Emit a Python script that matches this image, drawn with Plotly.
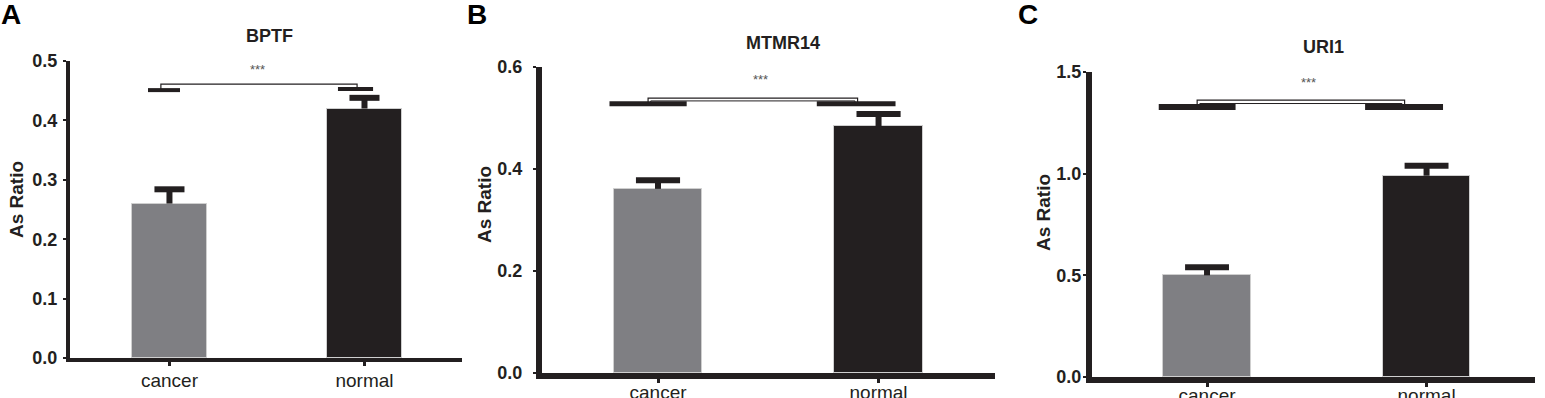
import plotly.graph_objects as go

# ---------------- data ----------------
categories = ["cancer", "normal"]
genes = ["BPTF", "MTMR14", "URI1"]
panel_letters = ["A", "B", "C"]

bptf_mean = [0.26, 0.42]
bptf_sem = [0.024, 0.018]
mtmr14_mean = [0.361, 0.484]
mtmr14_sem = [0.017, 0.024]
uri1_mean = [0.50, 0.99]
uri1_sem = [0.04, 0.049]

y_max = [0.5, 0.6, 1.5]
y_dtick = [0.1, 0.2, 0.5]

# significance bracket levels (data units): left bar, right bar, bracket top
bptf_bracket = [0.451, 0.453, 0.461]
mtmr14_bracket = [0.528, 0.528, 0.539]
uri1_bracket = [1.328, 1.328, 1.362]
sig_label = "***"
sig_y = [0.485, 0.576, 1.45]

means = [bptf_mean, mtmr14_mean, uri1_mean]
sems = [bptf_sem, mtmr14_sem, uri1_sem]
brackets = [bptf_bracket, mtmr14_bracket, uri1_bracket]

# ---------------- styling / layout constants ----------------
W, H = 1545, 398
INK = "#231f20"
BAR_COLORS = ["#7f7f83", "#231f20"]
FONT = "Liberation Sans, Arial, Helvetica, sans-serif"

px_x = [(70, 462), (542, 995), (1092, 1535)]
px_y = [(358, 61), (373, 67), (377, 72)]          # (y of 0, y of max)
x_ranges = [[-0.51, 1.5], [-0.526, 1.528], [-0.524, 1.494]]
bar_widths = [0.385, 0.40, 0.40]
cap_half = [0.077, 0.10, 0.10]
err_lw = [6, 6, 6]
axis_lw = [4, 6, 6]
ytick_standoff = [2, 7, -2]
xtick_standoff = [-2, -7, -8]
thick_lw = [4, 5, 6]
# horizontal offsets (category units) of bracket pieces
left_bar_off = [(-0.11, 0.054), (-0.22, 0.13), (-0.22, 0.13)]
right_bar_off = [(-0.136, 0.044), (-0.28, 0.077), (-0.28, 0.075)]
leg_off = [(-0.044, -0.038), (-0.045, -0.095), (-0.045, -0.10)]
star_x = [0.449, 0.463, 0.46]
double_bracket = [False, True, True]

title_pos = [(269, 36), (783, 43), (1323, 47)]
letter_pos = [(11, 15), (477, 15), (1028, 15)]
ytitle_pos = [(17, 200), (485, 205), (1043, 213)]

fig = go.Figure()
annotations = []


def line(xs, ys, xa, ya, width):
    return go.Scatter(x=xs, y=ys, mode="lines", line=dict(color=INK, width=width),
                      xaxis=xa, yaxis=ya, showlegend=False, hoverinfo="skip")


for i in range(3):
    sfx = "" if i == 0 else str(i + 1)
    xa, ya = "x" + sfx, "y" + sfx
    ymax = y_max[i]
    # bars
    fig.add_trace(go.Bar(
        x=[0, 1], y=means[i], width=bar_widths[i],
        marker=dict(color=BAR_COLORS, line=dict(color="#cfcfcf", width=1)),
        xaxis=xa, yaxis=ya, showlegend=False, hoverinfo="skip",
    ))
    # error bars (upper only)
    for k in range(2):
        m, s = means[i][k], sems[i][k]
        fig.add_trace(line([k, k], [m, m + s], xa, ya, err_lw[i]))
        fig.add_trace(line([k - cap_half[i], k + cap_half[i]], [m + s, m + s], xa, ya, err_lw[i]))
    lb, rb, top = brackets[i]
    # thick bars at bracket level
    fig.add_trace(line([0 + left_bar_off[i][0], 0 + left_bar_off[i][1]], [lb, lb], xa, ya, thick_lw[i]))
    fig.add_trace(line([1 + right_bar_off[i][0], 1 + right_bar_off[i][1]], [rb, rb], xa, ya, thick_lw[i]))
    # bracket
    x1, x2 = 0 + leg_off[i][0], 1 + leg_off[i][1]
    fig.add_trace(line([x1, x1, x2, x2], [lb, top, top, rb], xa, ya, 1.2))
    if double_bracket[i]:
        d = 0.012
        inner = top - (top - lb) * 0.5
        fig.add_trace(line([x1 + d, x1 + d, x2 - d, x2 - d], [lb, inner, inner, rb], xa, ya, 1.0))
    annotations.append(dict(x=star_x[i], y=sig_y[i], xref=xa, yref=ya, text=sig_label,
                            showarrow=False, xanchor="center", yanchor="middle",
                            font=dict(size=13, color="#555555", family=FONT)))

    x0p, x1p = px_x[i]
    y0p, y1p = px_y[i]
    fig.update_layout({
        "xaxis" + sfx: dict(domain=[x0p / W, x1p / W], range=x_ranges[i], anchor=ya,
                            tickvals=[0, 1], ticktext=categories, showline=True,
                            linecolor=INK, linewidth=axis_lw[i], ticks="outside",
                            ticklen=4, tickwidth=3, tickcolor=INK, showgrid=False,
                            zeroline=False, ticklabelstandoff=xtick_standoff[i],
                            automargin=False,
                            tickfont=dict(family=FONT, size=19, color=INK)),
        "yaxis" + sfx: dict(domain=[1 - y0p / H, 1 - y1p / H], range=[0, ymax], anchor=xa,
                            dtick=y_dtick[i], tick0=0, tickformat=".1f", showline=True,
                            linecolor=INK, linewidth=axis_lw[i], ticks="outside",
                            ticklen=3, tickwidth=2, tickcolor=INK, showgrid=False,
                            zeroline=False, ticklabelstandoff=ytick_standoff[i],
                            automargin=False,
                            tickfont=dict(family=FONT, size=18, color=INK, weight="bold")),
    })
    tx, ty = title_pos[i]
    annotations.append(dict(x=tx / W, y=1 - ty / H, xref="paper", yref="paper",
                            xanchor="center", yanchor="middle",
                            text="<b>%s</b>" % genes[i], showarrow=False,
                            font=dict(family=FONT, size=18, color=INK)))
    lx, ly = letter_pos[i]
    annotations.append(dict(x=lx / W, y=1 - ly / H, xref="paper", yref="paper",
                            xanchor="center", yanchor="middle",
                            text="<b>%s</b>" % panel_letters[i], showarrow=False,
                            font=dict(family=FONT, size=28, color="#000000")))
    ax_, ay_ = ytitle_pos[i]
    annotations.append(dict(x=ax_ / W, y=1 - ay_ / H, xref="paper", yref="paper",
                            xanchor="center", yanchor="middle",
                            text="<b>As Ratio</b>", showarrow=False, textangle=-90,
                            font=dict(family=FONT, size=19, color=INK)))

fig.update_layout(template="none", width=W, height=H, margin=dict(l=0, r=0, t=0, b=0),
                  paper_bgcolor="white", plot_bgcolor="white",
                  annotations=annotations, bargap=0)

fig.write_html("out.html", config={"displayModeBar": False},
               post_script="document.body.style.margin='0';document.body.style.overflow='hidden';")
